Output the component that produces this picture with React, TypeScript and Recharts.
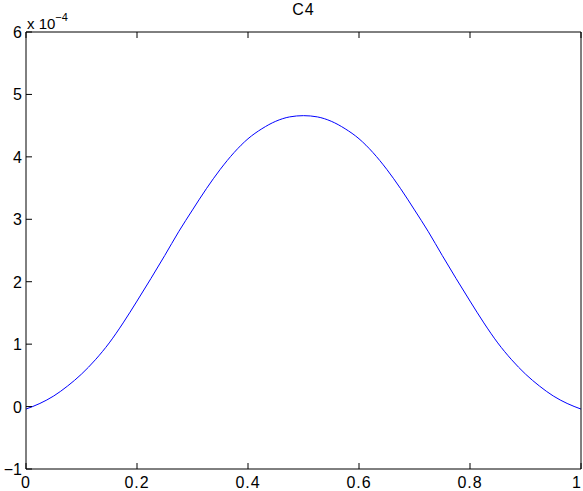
import { LineChart, Line, XAxis, YAxis } from 'recharts';

// C4 curve, values in units of 1e-4
const xValues = [
  0, 0.025, 0.05, 0.075, 0.1, 0.125, 0.15, 0.175, 0.2, 0.225, 0.25, 0.275, 0.3, 0.325, 0.35, 0.375, 0.4,
  0.425, 0.45, 0.475, 0.5, 0.525, 0.55, 0.575, 0.6, 0.625, 0.65, 0.675, 0.7, 0.725, 0.75, 0.775, 0.8,
  0.825, 0.85, 0.875, 0.9, 0.925, 0.95, 0.975, 1,
];
const c4Values = [
  -0.04, 0.05, 0.17, 0.33, 0.52, 0.75, 1.02, 1.34, 1.69, 2.05, 2.42, 2.8, 3.15, 3.49, 3.8, 4.07, 4.29,
  4.45, 4.57, 4.64, 4.66, 4.64, 4.57, 4.45, 4.29, 4.07, 3.8, 3.49, 3.15, 2.8, 2.42, 2.05, 1.69,
  1.34, 1.02, 0.75, 0.52, 0.33, 0.17, 0.05, -0.04,
];
const xTicks = [0, 0.2, 0.4, 0.6, 0.8, 1];
const yTicks = [-1, 0, 1, 2, 3, 4, 5, 6];

const data = xValues.map((x, i) => ({ x, c4: c4Values[i] }));

const FONT = '"Liberation Sans", Arial, Helvetica, sans-serif';
const TICK = 6;

const fmtY = (v: number) => String(v).replace('-', '\u2212');

const LeftTick = (props: any) => {
  const { x, y, payload } = props;
  return (
    <g>
      <line x1={x} x2={x + TICK} y1={y} y2={y} stroke="#000" />
      <text x={x - 4} y={y + 6} textAnchor="end" fontSize={16} fontFamily={FONT} fill="#000">
        {fmtY(payload.value)}
      </text>
    </g>
  );
};

const BottomTick = (props: any) => {
  const { x, y, payload } = props;
  // the last label sits against the right edge of the page
  const last = payload.value === xTicks[xTicks.length - 1];
  return (
    <g>
      <line x1={x} x2={x} y1={y} y2={y - TICK} stroke="#000" />
      <text
        x={last ? x + 1 : x}
        y={y + 19}
        textAnchor={last ? 'end' : 'middle'}
        fontSize={16}
        letterSpacing={1}
        fontFamily={FONT}
        fill="#000"
      >
        {String(payload.value)}
      </text>
    </g>
  );
};

const TopTick = (props: any) => {
  const { x, y } = props;
  return <line x1={x} x2={x} y1={y} y2={y + TICK} stroke="#000" />;
};

const RightTick = (props: any) => {
  const { x, y } = props;
  return <line x1={x} x2={x - TICK} y1={y} y2={y} stroke="#000" />;
};

export default function App() {
  return (
    <div style={{ position: 'absolute', left: 0, top: 0, width: 583, height: 491, background: '#fff' }}>
      <LineChart width={583} height={491} data={data} margin={{ top: 2, right: 0, bottom: 0, left: 0 }}>
        <XAxis
          dataKey="x"
          type="number"
          domain={[0, 1]}
          ticks={xTicks}
          tick={<BottomTick />}
          tickLine={false}
          tickSize={0}
          tickMargin={0}
          height={22}
          axisLine={{ stroke: '#000' }}
          interval={0}
          allowDataOverflow
        />
        <XAxis
          xAxisId="top"
          orientation="top"
          dataKey="x"
          type="number"
          domain={[0, 1]}
          ticks={xTicks}
          tick={<TopTick />}
          tickLine={false}
          tickSize={0}
          tickMargin={0}
          height={30}
          axisLine={{ stroke: '#000' }}
          interval={0}
        />
        <YAxis
          type="number"
          domain={[-1, 6]}
          ticks={yTicks}
          tick={<LeftTick />}
          tickLine={false}
          tickSize={0}
          tickMargin={0}
          width={26}
          axisLine={{ stroke: '#000' }}
          interval={0}
          allowDataOverflow
        />
        <YAxis
          yAxisId="right"
          orientation="right"
          type="number"
          domain={[-1, 6]}
          ticks={yTicks}
          tick={<RightTick />}
          tickLine={false}
          tickSize={0}
          tickMargin={0}
          width={2}
          axisLine={{ stroke: '#000' }}
          interval={0}
        />
        <Line
          dataKey="c4"
          type="monotone"
          stroke="#0000ff"
          strokeWidth={1}
          dot={false}
          isAnimationActive={false}
        />
      </LineChart>
      <div
        style={{
          position: 'absolute',
          left: 0,
          width: 607,
          top: 0,
          textAlign: 'center',
          fontFamily: FONT,
          fontSize: 16,
          letterSpacing: 1,
          lineHeight: '20px',
        }}
      >
        C4
      </div>
      <div
        style={{
          position: 'absolute',
          left: 27,
          top: 10,
          fontFamily: FONT,
          fontSize: 15,
          lineHeight: '18px',
          whiteSpace: 'nowrap',
        }}
      >
        x 10<sup style={{ fontSize: 11, position: 'relative', top: -2 }}>{'\u22124'}</sup>
      </div>
    </div>
  );
}
